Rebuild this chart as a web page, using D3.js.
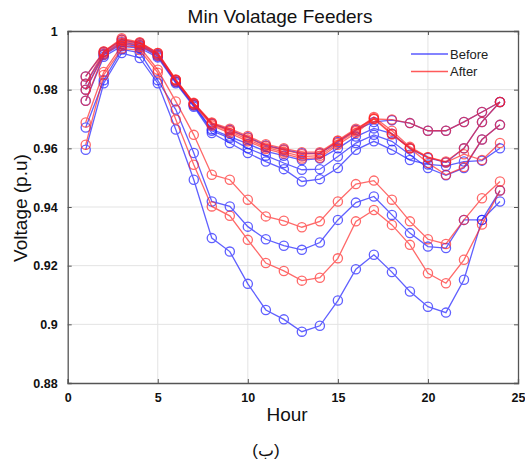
<!DOCTYPE html>
<html><head><meta charset="utf-8">
<script src="https://cdn.jsdelivr.net/npm/d3@7"></script>
<style>
body{margin:0;background:#fff;}
svg{display:block;font-family:"Liberation Sans",Arial,sans-serif;}
</style>
</head><body>
<svg id="chart" width="525" height="463"></svg>
<script>
// ---------- data ----------
const hours = [1,2,3,4,5,6,7,8,9,10,11,12,13,14,15,16,17,18,19,20,21,22,23,24];
const xTicks = [0,5,10,15,20,25];
const xTickLabels = ["0","5","10","15","20","25"];
const yTicks = [0.88,0.90,0.92,0.94,0.96,0.98,1.00];
const yTickLabels = ["0.88","0.9","0.92","0.94","0.96","0.98","1"];
const legendLabels = ["Before","After"];

const feederA_before = [0.9845,0.9928,0.9970,0.9958,0.9922,0.9832,0.9752,0.9684,0.9663,0.9638,0.9610,0.9596,0.9583,0.9583,0.9622,0.9663,0.9690,0.9696,0.9686,0.9660,0.9660,0.9690,0.9724,0.9758];
const feederA_after  = [0.9845,0.9930,0.9975,0.9962,0.9925,0.9835,0.9755,0.9688,0.9667,0.9642,0.9614,0.9600,0.9587,0.9587,0.9627,0.9667,0.9700,0.9698,0.9686,0.9660,0.9660,0.9690,0.9724,0.9758];
const feederB_before = [0.9820,0.9922,0.9962,0.9952,0.9918,0.9828,0.9748,0.9665,0.9640,0.9615,0.9590,0.9575,0.9560,0.9565,0.9600,0.9640,0.9668,0.9650,0.9600,0.9567,0.9552,0.9600,0.9690,0.9758];
const feederB_after  = [0.9820,0.9930,0.9970,0.9960,0.9925,0.9834,0.9754,0.9686,0.9662,0.9636,0.9608,0.9594,0.9580,0.9582,0.9625,0.9662,0.9707,0.9660,0.9605,0.9570,0.9555,0.9600,0.9690,0.9758];
const feederC_before = [0.9800,0.9918,0.9955,0.9948,0.9914,0.9826,0.9746,0.9660,0.9635,0.9600,0.9575,0.9550,0.9527,0.9529,0.9572,0.9618,0.9646,0.9624,0.9578,0.9533,0.9508,0.9533,0.9630,0.9680];
const feederC_after  = [0.9800,0.9925,0.9965,0.9956,0.9920,0.9832,0.9752,0.9682,0.9658,0.9630,0.9603,0.9588,0.9572,0.9575,0.9618,0.9658,0.9703,0.9650,0.9600,0.9550,0.9510,0.9536,0.9630,0.9680];
const feederD_before = [0.9762,0.9912,0.9948,0.9942,0.9910,0.9822,0.9742,0.9652,0.9618,0.9584,0.9555,0.9529,0.9487,0.9495,0.9533,0.9595,0.9624,0.9595,0.9560,0.9545,0.9540,0.9555,0.9558,0.9600];
const feederD_after  = [0.9762,0.9920,0.9958,0.9952,0.9916,0.9828,0.9748,0.9678,0.9652,0.9624,0.9598,0.9582,0.9565,0.9568,0.9612,0.9652,0.9700,0.9647,0.9600,0.9570,0.9552,0.9580,0.9560,0.9618];
const feederE_before = [0.9671,0.9832,0.9937,0.9926,0.9832,0.9732,0.9584,0.9419,0.9402,0.9333,0.9290,0.9268,0.9254,0.9279,0.9356,0.9415,0.9436,0.9373,0.9311,0.9265,0.9260,0.9356,0.9356,0.9456];
const feederE_after  = [0.9688,0.9860,0.9950,0.9945,0.9868,0.9760,0.9646,0.9510,0.9493,0.9425,0.9368,0.9353,0.9331,0.9351,0.9419,0.9478,0.9490,0.9425,0.9351,0.9290,0.9274,0.9356,0.9430,0.9487];
const feederF_before = [0.9595,0.9822,0.9925,0.9908,0.9822,0.9664,0.9493,0.9294,0.9248,0.9138,0.9049,0.9017,0.8975,0.8995,0.9081,0.9188,0.9237,0.9178,0.9112,0.9060,0.9040,0.9152,0.9356,0.9419];
const feederF_after  = [0.9612,0.9850,0.9940,0.9935,0.9858,0.9698,0.9544,0.9402,0.9370,0.9288,0.9209,0.9182,0.9149,0.9159,0.9225,0.9351,0.9390,0.9339,0.9271,0.9174,0.9140,0.9220,0.9340,0.9456];

const beforeSeries = [feederA_before,feederB_before,feederC_before,feederD_before,feederE_before,feederF_before];
const afterSeries  = [feederA_after,feederB_after,feederC_after,feederD_after,feederE_after,feederF_after];

// ---------- layout ----------
const L = 67.7, T = 31, R = 518, B = 383;
const svg = d3.select("#chart");
const x = d3.scaleLinear().domain([0,25]).range([L,R]);
const y = d3.scaleLinear().domain([0.88,1]).range([B,T]);

// grid
const grid = svg.append("g");
grid.selectAll("line.gx").data(xTicks.slice(1,-1)).enter().append("line")
  .attr("x1",d=>x(d)).attr("x2",d=>x(d)).attr("y1",T).attr("y2",B)
  .attr("stroke","#e3e3e3").attr("stroke-width",1);
grid.selectAll("line.gy").data(yTicks.slice(1,-1)).enter().append("line")
  .attr("y1",d=>y(d)).attr("y2",d=>y(d)).attr("x1",L).attr("x2",R)
  .attr("stroke","#e3e3e3").attr("stroke-width",1);

// axes
const axB = d3.axisBottom(x).tickValues(xTicks).tickSize(-4).tickPadding(10).tickFormat((d,i)=>xTickLabels[i]);
const axL = d3.axisLeft(y).tickValues(yTicks).tickSize(-4).tickPadding(10).tickFormat((d,i)=>yTickLabels[i]);
const axT = d3.axisTop(x).tickValues(xTicks).tickSize(-4).tickFormat("");
const axR = d3.axisRight(y).tickValues(yTicks).tickSize(-4).tickFormat("");
function styleAxis(g){
  g.select(".domain").attr("stroke","#555").attr("stroke-width",1.3);
  g.selectAll(".tick line").attr("stroke","#555");
  g.selectAll(".tick text").attr("font-family","'Liberation Sans',Arial,sans-serif")
    .attr("font-size","12.5px").attr("font-weight","bold").attr("fill","#111");
}
svg.append("g").attr("transform",`translate(0,${B})`).call(axB).call(styleAxis);
svg.append("g").attr("transform",`translate(${L},0)`).call(axL).call(styleAxis);
svg.append("g").attr("transform",`translate(0,${T})`).call(axT).call(styleAxis);
svg.append("g").attr("transform",`translate(${R},0)`).call(axR).call(styleAxis);

// lines
const line = d3.line().x((d,i)=>x(hours[i])).y(d=>y(d));
const BLUE = "rgb(35,35,255)", RED = "rgb(255,35,35)";
function drawSeries(arr, color, op){
  arr.forEach(vals=>{
    const g = svg.append("g").attr("opacity",op);
    g.append("path").datum(vals).attr("d",line).attr("fill","none")
      .attr("stroke",color).attr("stroke-width",1.3);
    g.selectAll("circle").data(vals).enter().append("circle")
      .attr("cx",(d,i)=>x(hours[i])).attr("cy",d=>y(d)).attr("r",4.6)
      .attr("fill","none").attr("stroke",color).attr("stroke-width",1.3);
  });
}
drawSeries(beforeSeries, BLUE, 0.72);
drawSeries(afterSeries, RED, 0.68);

// legend
const lg = svg.append("g");
[BLUE,RED].forEach((c,i)=>{
  lg.append("line").attr("x1",411).attr("x2",448).attr("y1",54+i*17.5).attr("y2",54+i*17.5)
    .attr("stroke",c).attr("stroke-width",1.3).attr("opacity",0.75);
  lg.append("text").attr("x",450).attr("y",58.5+i*17.5).text(legendLabels[i])
    .attr("font-size","13px").attr("fill","#222");
});

// titles
svg.append("text").attr("x",280).attr("y",23).attr("text-anchor","middle")
  .attr("font-size","19px").attr("fill","#111").text("Min Volatage Feeders");
svg.append("text").attr("x",287).attr("y",421).attr("text-anchor","middle")
  .attr("font-size","19px").attr("fill","#111").text("Hour");
svg.append("text").attr("transform","translate(27,208) rotate(-90)").attr("text-anchor","middle")
  .attr("font-size","19px").attr("fill","#111").text("Voltage (p.u)");
svg.append("text").attr("x",266).attr("y",456).attr("text-anchor","middle")
  .attr("font-size","17px").attr("fill","#111").text("(ب)");
</script>
</body></html>
